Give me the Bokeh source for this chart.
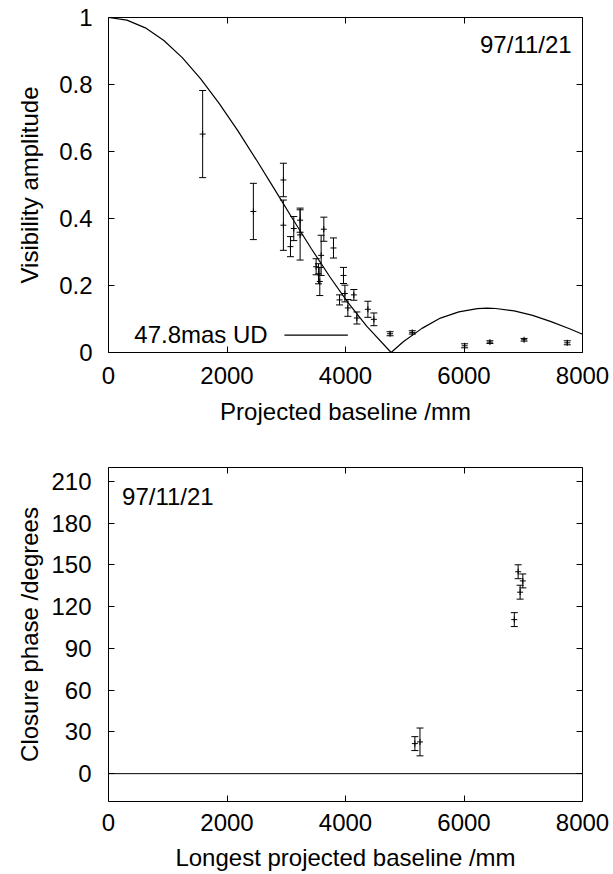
from bokeh.plotting import figure
from bokeh.layouts import column
from bokeh.models import (Range1d, LinearAxis, FixedTicker, Whisker, ColumnDataSource,
                          Label, Span, TeeHead, CustomJSTickFormatter, CustomLabelingPolicy)
from bokeh.embed import file_html
from bokeh.resources import INLINE

# ---------------- data ----------------
# Top panel: visibility amplitude vs projected baseline (mm)
vis_baseline = [1589, 2445, 2952, 2952, 3071, 3127, 3234, 3234, 3634, 3504, 3544, 3566,
                3589, 3797, 3899, 3966, 3990, 4040, 4141, 4192, 4378, 4479,
                4752, 5127, 6011, 6437, 7014, 7743]
vis_amp = [0.652, 0.421, 0.515, 0.380, 0.316, 0.370, 0.395, 0.351, 0.368, 0.256, 0.235, 0.212,
           0.290, 0.312, 0.157, 0.230, 0.176, 0.133, 0.172, 0.103, 0.129, 0.099,
           0.056, 0.060, 0.020, 0.031, 0.038, 0.029]
vis_err = [0.130, 0.084, 0.050, 0.075, 0.030, 0.036, 0.036, 0.075, 0.036, 0.024, 0.030, 0.042,
           0.060, 0.030, 0.015, 0.024, 0.025, 0.025, 0.016, 0.018, 0.024, 0.019,
           0.006, 0.005, 0.006, 0.004, 0.004, 0.006]

# 47.8 mas uniform-disk model curve
ud_baseline = [0, 311, 622, 934, 1245, 1556, 1867, 2179, 2490, 2801, 3112, 3424, 3735,
               4046, 4357, 4770, 4980, 5291, 5602, 5913, 6225, 6393, 6536, 6847, 7158,
               7469, 7781, 8000]
ud_amp = [1.0, 0.9922, 0.9691, 0.9312, 0.8801, 0.8170, 0.7439, 0.6631, 0.5767, 0.4875,
          0.3977, 0.3098, 0.2261, 0.1484, 0.0785, 0.0, 0.0330, 0.0720, 0.1027, 0.1211,
          0.1310, 0.1323, 0.1313, 0.1241, 0.1108, 0.0922, 0.0710, 0.0545]

# Bottom panel: closure phase vs longest projected baseline (mm)
cp_baseline = [5171, 5257, 6849, 6914, 6947, 6993]
cp_phase = [21.6, 22.8, 110.7, 145.1, 130.4, 138.5]
cp_err = [5.0, 10.0, 5.0, 5.0, 5.0, 5.0]

x_ticks = [0, 2000, 4000, 6000, 8000]
vis_ticks = [0, 0.2, 0.4, 0.6, 0.8, 1.0]
cp_ticks = [0, 30, 60, 90, 120, 150, 180, 210]

date_text = "97/11/21"
legend_text = "47.8mas UD"

FONT = "Liberation Sans"
FS = "24px"

NO_LABELS = """
for (const i of indices) { indices.unset(i) }
return indices
"""


def style(p, xticks, yticks, yfmt=None):
    p.grid.visible = False
    p.outline_line_color = "black"
    p.outline_line_width = 1
    p.background_fill_color = "white"
    p.border_fill_color = "white"
    for ax in p.below:
        ax.ticker = FixedTicker(ticks=xticks)
    for ax in p.left:
        ax.ticker = FixedTicker(ticks=yticks)
        if yfmt is not None:
            ax.formatter = yfmt
    for ax in p.below + p.left:
        ax.major_tick_in = 6
        ax.major_tick_out = 0
        ax.minor_tick_line_color = None
        ax.axis_line_color = None
        ax.major_tick_line_color = "black"
        ax.major_label_text_font = FONT
        ax.major_label_text_font_size = FS
        ax.major_label_text_color = "black"
        ax.axis_label_text_font = FONT
        ax.axis_label_text_font_size = FS
        ax.axis_label_text_font_style = "normal"
        ax.axis_label_text_color = "black"
    # mirrored ticks on top and right (no labels)
    top = LinearAxis(ticker=FixedTicker(ticks=xticks), major_tick_in=6, major_tick_out=0,
                     minor_tick_line_color=None, axis_line_color=None,
                     major_label_policy=CustomLabelingPolicy(code=NO_LABELS),
                     major_label_text_font_size="1px", major_label_standoff=0)
    right = LinearAxis(ticker=FixedTicker(ticks=yticks), major_tick_in=6, major_tick_out=0,
                       minor_tick_line_color=None, axis_line_color=None,
                       major_label_policy=CustomLabelingPolicy(code=NO_LABELS),
                       major_label_text_font_size="1px", major_label_standoff=0)
    p.add_layout(top, "above")
    p.add_layout(right, "right")


# ---------------- top figure ----------------
p1 = figure(width=613, height=427, output_backend="svg", toolbar_location=None,
            x_range=Range1d(0, 8000), y_range=Range1d(0, 1),
            min_border_left=106, min_border_right=31, min_border_top=17, min_border_bottom=74,
            x_axis_label="Projected baseline /mm", y_axis_label="Visibility amplitude")
style(p1, x_ticks, vis_ticks,
      CustomJSTickFormatter(code="return Number(tick.toFixed(1)).toString();"))
p1.below[0].major_label_standoff = 14
p1.below[0].axis_label_standoff = 11
p1.left[0].major_label_standoff = 16
p1.left[0].axis_label_standoff = 13

p1.line(ud_baseline, ud_amp, line_color="black", line_width=1.2)

vis_src = ColumnDataSource(dict(
    x=vis_baseline, y=vis_amp,
    lo=[a - e for a, e in zip(vis_amp, vis_err)],
    hi=[a + e for a, e in zip(vis_amp, vis_err)]))
p1.add_layout(Whisker(source=vis_src, base="x", lower="lo", upper="hi",
                      line_color="black", line_width=1,
                      upper_head=TeeHead(size=7, line_color="black", line_width=1),
                      lower_head=TeeHead(size=7, line_color="black", line_width=1)))
p1.scatter("x", "y", source=vis_src, marker="cross", size=6, line_color="black", line_width=1)

p1.add_layout(Label(x=7817, y=0.92, text=date_text, text_align="right", text_baseline="middle",
                    text_font=FONT, text_font_size=FS, text_color="black"))
# key
LEG_TEXT_X, LEG_Y = 2687, 0.054
LEG_LINE_X0, LEG_LINE_X1 = 2969, 4040
p1.add_layout(Label(x=LEG_TEXT_X, y=LEG_Y, text=legend_text, text_align="right",
                    text_baseline="middle", text_font=FONT, text_font_size=FS,
                    text_color="black"))
p1.line([LEG_LINE_X0, LEG_LINE_X1], [LEG_Y - 0.002, LEG_Y - 0.002],
        line_color="black", line_width=1.2)

# ---------------- bottom figure ----------------
p2 = figure(width=613, height=446, output_backend="svg", toolbar_location=None,
            x_range=Range1d(0, 8000), y_range=Range1d(-20, 220),
            min_border_left=108, min_border_right=27, min_border_top=40, min_border_bottom=71,
            x_axis_label="Longest projected baseline /mm",
            y_axis_label="Closure phase /degrees")
style(p2, x_ticks, cp_ticks)
p2.below[0].major_label_standoff = 12
p2.below[0].axis_label_standoff = 10
p2.left[0].major_label_standoff = 17
p2.left[0].axis_label_standoff = 5

p2.add_layout(Span(location=0, dimension="width", line_color="black", line_width=1))

cp_src = ColumnDataSource(dict(
    x=cp_baseline, y=cp_phase,
    lo=[a - e for a, e in zip(cp_phase, cp_err)],
    hi=[a + e for a, e in zip(cp_phase, cp_err)]))
p2.add_layout(Whisker(source=cp_src, base="x", lower="lo", upper="hi",
                      line_color="black", line_width=1,
                      upper_head=TeeHead(size=7, line_color="black", line_width=1),
                      lower_head=TeeHead(size=7, line_color="black", line_width=1)))
p2.scatter("x", "y", source=cp_src, marker="cross", size=6, line_color="black", line_width=1)

p2.add_layout(Label(x=229, y=199.5, text=date_text, text_align="left", text_baseline="middle",
                    text_font=FONT, text_font_size=FS, text_color="black"))

layout = column(p1, p2, spacing=0)
open("out.html", "w").write(file_html(layout, INLINE))
